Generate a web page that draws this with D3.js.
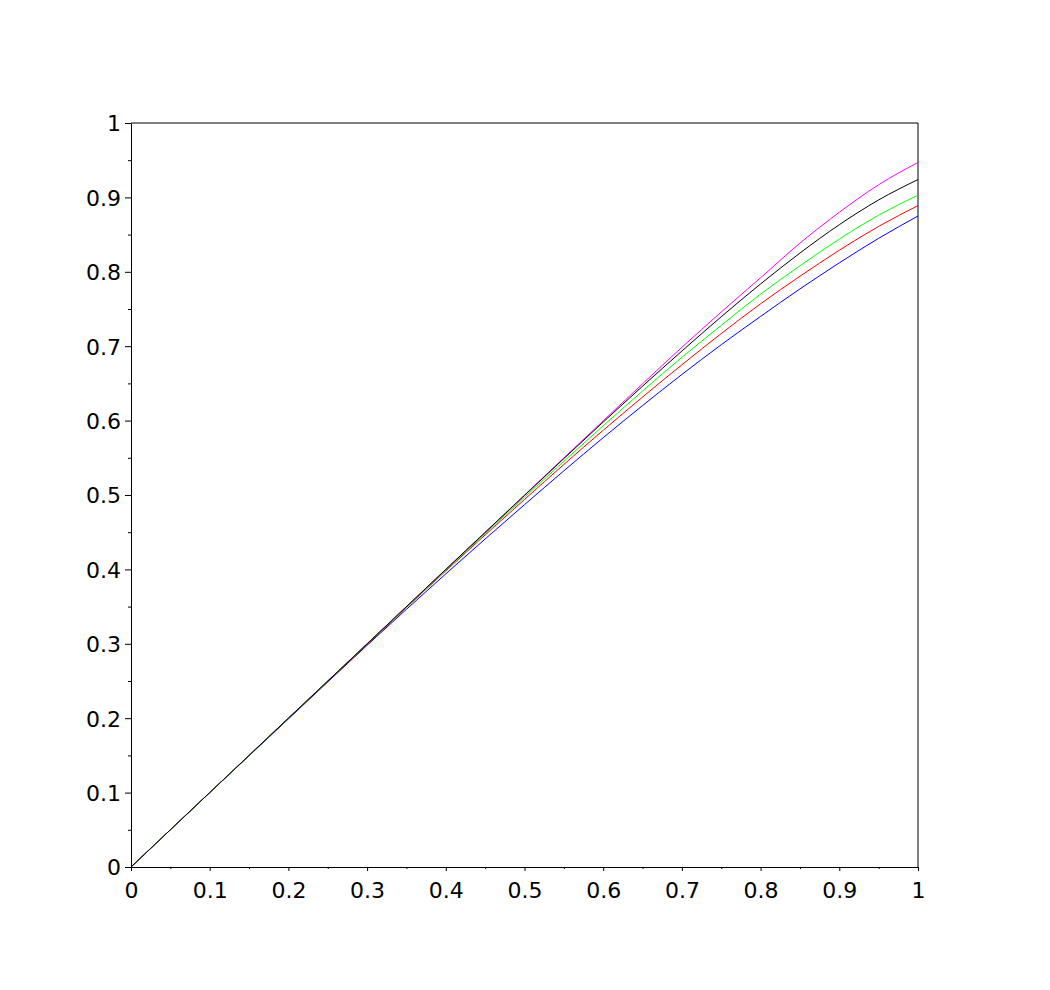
<!DOCTYPE html>
<html>
<head>
<meta charset="utf-8">
<script src="https://cdn.jsdelivr.net/npm/d3@7"></script>
<style>
  body { margin: 0; background: #fff; }
  svg text { font-family: "DejaVu Sans", sans-serif; font-size: 22px; fill: #000; }
</style>
</head>
<body>
<div class="container"></div>
<script>
const xValues = [0, 0.1, 0.2, 0.3, 0.4, 0.5, 0.6, 0.7, 0.75, 0.8, 0.85, 0.9, 0.95, 1]

const magentaValues = [0, 0.1, 0.2, 0.3, 0.4, 0.4999, 0.5997, 0.6985, 0.746, 0.792, 0.8385, 0.880, 0.917, 0.947]
const blueValues = [0, 0.1, 0.199, 0.298, 0.394, 0.487, 0.577, 0.662, 0.702, 0.740, 0.777, 0.812, 0.845, 0.875]
const redValues = [0, 0.1, 0.2, 0.299, 0.398, 0.494, 0.587, 0.675, 0.717, 0.757, 0.794, 0.829, 0.861, 0.889]
const greenValues = [0, 0.1, 0.2, 0.3, 0.399, 0.497, 0.593, 0.685, 0.728, 0.770, 0.808, 0.844, 0.876, 0.903]
const blackValues = [0, 0.1, 0.2, 0.3, 0.4, 0.4994, 0.598, 0.6935, 0.7396, 0.7837, 0.8252, 0.8633, 0.8966, 0.924]

const series = [
  { color: '#ff00ff', values: magentaValues },
  { color: '#0000ff', values: blueValues },
  { color: '#ff0000', values: redValues },
  { color: '#00ff00', values: greenValues },
  { color: '#000000', values: blackValues }
]

const tickValues = [0, 0.1, 0.2, 0.3, 0.4, 0.5, 0.6, 0.7, 0.8, 0.9, 1]
const minorTickValues = [0.05, 0.15, 0.25, 0.35, 0.45, 0.55, 0.65, 0.75, 0.85, 0.95]

const width = 1050
const height = 990
const plotLeft = 131
const plotRight = 918
const plotTop = 123
const plotBottom = 867

const svg = d3.select('.container').append('svg')
  .attr('width', width)
  .attr('height', height)

const xScale = d3.scaleLinear().domain([0, 1]).range([plotLeft, plotRight])
const yScale = d3.scaleLinear().domain([0, 1]).range([plotBottom, plotTop])

const fmt = d => d === 0 || d === 1 ? String(d) : d3.format('.1f')(d)

// minor ticks first, then main axes
svg.append('g')
  .attr('transform', `translate(0, ${ plotBottom })`)
  .call(d3.axisBottom(xScale).tickValues(minorTickValues).tickSize(2).tickFormat(''))
  .call(g => g.select('.domain').remove())

svg.append('g')
  .attr('transform', `translate(${ plotLeft }, 0)`)
  .call(d3.axisLeft(yScale).tickValues(minorTickValues).tickSize(3).tickFormat(''))
  .call(g => g.select('.domain').remove())

const xAxis = svg.append('g')
  .attr('transform', `translate(0, ${ plotBottom })`)
  .call(d3.axisBottom(xScale).tickValues(tickValues).tickSize(4).tickSizeOuter(0).tickPadding(11).tickFormat(fmt))

const yAxis = svg.append('g')
  .attr('transform', `translate(${ plotLeft }, 0)`)
  .call(d3.axisLeft(yScale).tickValues(tickValues).tickSize(6).tickSizeOuter(0).tickPadding(4).tickFormat(fmt))

svg.selectAll('.tick text').attr('font-family', null).attr('font-size', null)
xAxis.selectAll('.tick text').attr('dy', '0.71em')
yAxis.selectAll('.tick text').attr('dy', '0.36em')

// box top and right edges
svg.append('path')
  .attr('d', `M${ plotLeft },${ plotTop }H${ plotRight }V${ plotBottom }`)
  .attr('fill', 'none')
  .attr('stroke', '#000')
  .attr('stroke-width', 1)

const line = d3.line()
  .x(d => xScale(d[0]))
  .y(d => yScale(d[1]))
  .curve(d3.curveMonotoneX)

svg.append('g').selectAll('path')
  .data(series)
  .join('path')
    .attr('d', s => line(xValues.map((x, i) => [x, s.values[i]])))
    .attr('fill', 'none')
    .attr('stroke', s => s.color)
    .attr('stroke-width', 1)
</script>
</body>
</html>
